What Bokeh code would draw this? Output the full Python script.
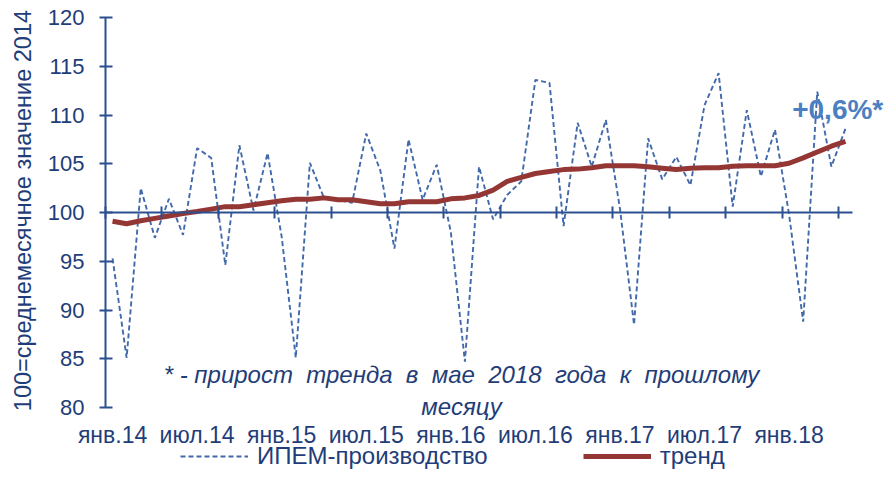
import math
from bokeh.plotting import figure
from bokeh.models import (LinearAxis, FixedTicker, Legend, LegendItem, Label, Range1d)
from bokeh.embed import file_html
from bokeh.resources import INLINE

# ---- data ----
tick_labels = ["янв.14", "июл.14", "янв.15", "июл.15", "янв.16",
               "июл.16", "янв.17", "июл.17", "янв.18"]
ipem = [95.3, 85.1, 102.5, 97.4, 101.4, 97.7, 106.6, 105.6, 94.6, 106.9,
        100.2, 106.1, 97.5, 85.1, 105.1, 101.5, 101.3, 101.0, 108.1, 104.3,
        96.3, 107.5, 101.3, 104.9, 98.0, 84.7, 104.7, 99.3, 101.8, 103.2,
        113.6, 113.3, 98.6, 109.2, 104.7, 109.5, 100.4, 88.5, 107.6, 103.4,
        105.7, 102.8, 111.0, 114.3, 100.6, 110.5, 103.7, 108.5, 99.8, 88.8,
        112.4, 104.7, 108.6]
trend = [99.1, 98.85, 99.15, 99.4, 99.65, 99.9, 100.1, 100.35, 100.6, 100.6,
         100.8, 101.0, 101.2, 101.35, 101.35, 101.5, 101.3, 101.3, 101.1, 100.9,
         100.9, 101.1, 101.1, 101.1, 101.4, 101.5, 101.75, 102.3, 103.2, 103.6,
         104.0, 104.2, 104.4, 104.45, 104.6, 104.8, 104.8, 104.8, 104.7, 104.55,
         104.4, 104.55, 104.6, 104.6, 104.75, 104.8, 104.8, 104.8, 105.05, 105.6,
         106.2, 106.8, 107.3]
y_ticks = [80, 85, 90, 95, 100, 105, 110, 115, 120]
y_label = "100=среднемесячное значение 2014"
series_names = ["ИПЕМ-производство", "тренд"]
growth_text = "+0,6%*"
NB = "\u00a0 "
note_line1 = "* - прирост" + NB + "тренда" + NB + "в" + NB + "мае" + NB + "2018" + NB + "года" + NB + "к" + NB + "прошлому"
note_line2 = "месяцу"

n = len(ipem)
months = list(range(n))

FONT = "Liberation Sans"
TXT = "#1f3d78"
AX = "#2b5090"

p = figure(width=884, height=470, output_backend="svg", toolbar_location=None,
           x_range=Range1d(-7.95, 54.77), y_range=Range1d(73.54, 121.744),
           x_axis_location=None, y_axis_location=None,
           min_border_left=0, min_border_top=0, min_border_right=0,
           min_border_bottom=0)
p.outline_line_color = None
p.xgrid.visible = False
p.ygrid.visible = False
p.background_fill_color = "white"

# y axis (vertical line at the left edge of the category area)
ya = LinearAxis(ticker=FixedTicker(ticks=y_ticks), fixed_location=-0.5,
                bounds=(y_ticks[0], y_ticks[-1]))
ya.axis_line_color = AX
ya.axis_line_width = 2
ya.major_tick_line_color = AX
ya.major_tick_line_width = 2
ya.major_tick_in = 7
ya.major_tick_out = 6
ya.minor_tick_line_color = None
ya.major_label_text_font = FONT
ya.major_label_text_font_size = "22px"
ya.major_label_text_color = TXT
ya.major_label_standoff = 15
p.add_layout(ya, "left")

# x labels axis (drawn under the y=80 level, no line)
xl = LinearAxis(ticker=FixedTicker(ticks=[months[k] for k in range(0, n, 6)]),
                major_label_overrides={months[k]: tick_labels[k // 6] for k in range(0, n, 6)},
                fixed_location=y_ticks[0])
xl.axis_line_color = None
xl.major_tick_line_color = None
xl.major_tick_out = 0
xl.major_tick_in = 0
xl.minor_tick_line_color = None
xl.major_label_text_font = FONT
xl.major_label_text_font_size = "23px"
xl.major_label_text_color = TXT
xl.major_label_standoff = 14
p.add_layout(xl, "below")

# x axis line crossing at 100
xa = LinearAxis(ticker=FixedTicker(ticks=[k - 0.5 for k in range(0, n, 4)]),
                fixed_location=100, bounds=(-0.5, n - 0.5))
xa.axis_line_color = AX
xa.axis_line_width = 2
xa.major_tick_line_color = AX
xa.major_tick_line_width = 2
xa.major_tick_in = 6
xa.major_tick_out = 6
xa.minor_tick_line_color = None
xa.major_label_text_color = None
xa.major_label_text_font_size = "1px"
xa.major_label_standoff = 0
p.add_layout(xa, "below")

r1 = p.line(months, ipem, line_color="#4269aa", line_width=1.9, line_dash="5 3")
r2 = p.line(months, trend, line_color="#943634", line_width=5)

# y axis title (rotated)
p.add_layout(Label(x=-6.32, y=100.2, text=y_label, angle=math.pi / 2,
                   text_font=FONT, text_font_size="23.5px", text_color=TXT,
                   text_align="center", text_baseline="middle"))

p.add_layout(Label(x=51.45, y=110.6, text=growth_text, text_font=FONT,
                   text_font_size="28px", text_font_style="bold",
                   text_color="#4a7fc1", text_align="center",
                   text_baseline="middle"))
p.add_layout(Label(x=24.76, y=83.4, text=note_line1, text_font=FONT,
                   text_font_size="24px", text_font_style="italic",
                   text_color=TXT, text_align="center", text_baseline="middle"))
p.add_layout(Label(x=24.76, y=80.1, text=note_line2, text_font=FONT,
                   text_font_size="24px", text_font_style="italic",
                   text_color=TXT, text_align="center", text_baseline="middle"))

legend = Legend(items=[LegendItem(label=series_names[0], renderers=[r1]),
                       LegendItem(label=series_names[1], renderers=[r2])],
                orientation="horizontal", location=(180, 0),
                glyph_width=68, glyph_height=20, label_height=20,
                label_standoff=9, spacing=95, padding=0, margin=0,
                border_line_color=None, background_fill_alpha=0,
                label_text_font=FONT, label_text_font_size="24px",
                label_text_color=TXT)
p.add_layout(legend, "center")

open("out.html", "w").write(file_html(p, INLINE))
